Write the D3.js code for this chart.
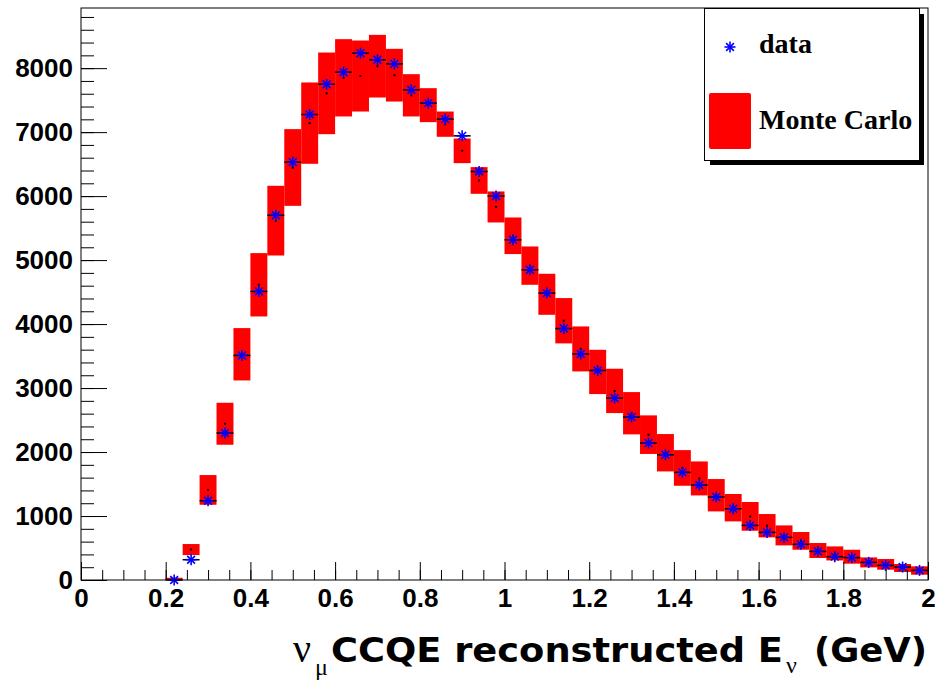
<!DOCTYPE html>
<html>
<head>
<meta charset="utf-8">
<script src="https://cdn.jsdelivr.net/npm/d3@7"></script>
<style>
  body { margin: 0; background: #fff; }
  .tick text { font-family: "Liberation Sans", Arial, sans-serif; font-weight: bold; font-size: 26px; fill: #000; }
</style>
</head>
<body>
<div id="chart"></div>
<script>
// bin centres (GeV), bins are 0.04 wide
var binCenters = [0.22, 0.26, 0.30, 0.34, 0.38, 0.42, 0.46, 0.50, 0.54, 0.58,
                  0.62, 0.66, 0.70, 0.74, 0.78, 0.82, 0.86, 0.90, 0.94, 0.98,
                  1.02, 1.06, 1.10, 1.14, 1.18, 1.22, 1.26, 1.30, 1.34, 1.38,
                  1.42, 1.46, 1.50, 1.54, 1.58, 1.62, 1.66, 1.70, 1.74, 1.78,
                  1.82, 1.86, 1.90, 1.94, 1.98];
var binWidth = 0.04;

// data points
var dataCounts = [0, 317, 1239, 2297, 3510, 4510, 5700, 6531, 7275, 7749,
                  7937, 8234, 8130, 8067, 7661, 7453, 7203, 6942, 6384, 6000,
                  5317, 4848, 4484, 3930, 3533, 3275, 2843, 2546, 2140, 1958,
                  1682, 1484, 1297, 1114, 853, 744, 666, 557, 447, 365,
                  350, 275, 228, 203, 150];

// Monte Carlo error band (low / high edge)
var mcLow = [0, 390, 1176, 2114, 3119, 4119, 5072, 5848, 6505, 6968,
             7245, 7322, 7541, 7478, 7245, 7156, 6927, 6515, 6036, 5588,
             5094, 4614, 4145, 3698, 3260, 2906, 2609, 2276, 1970, 1697,
             1473, 1322, 1072, 916, 770, 666, 541, 473, 344, 306,
             255, 197, 161, 125, 83];
var mcHigh = [35, 562, 1640, 2770, 3937, 5109, 6161, 7047, 7776, 8244,
              8453, 8432, 8520, 8302, 7906, 7687, 7322, 6900, 6453, 6073,
              5666, 5213, 4786, 4406, 3963, 3598, 3302, 2937, 2573, 2281,
              2030, 1853, 1578, 1344, 1219, 1031, 853, 750, 578, 525,
              473, 353, 328, 250, 213];

var width = 935,
    height = 683;

var x = d3.scaleLinear().domain([0, 2]).range([81, 928]);
var y = d3.scaleLinear().domain([0, 8940]).range([580, 8]);

var svg = d3.select("#chart")
    .append("svg")
    .attr("width", width)
    .attr("height", height);

var bins = binCenters.map(function (c, i) {
    return { c: c, data: dataCounts[i], lo: mcLow[i], hi: mcHigh[i] };
});

// red MC boxes
svg.append("g")
    .selectAll("rect")
    .data(bins)
    .enter().append("rect")
    .attr("x", function (d) { return x(d.c - binWidth / 2); })
    .attr("width", function (d) { return x(d.c + binWidth / 2) - x(d.c - binWidth / 2); })
    .attr("y", function (d) { return y(d.hi); })
    .attr("height", function (d) { return y(d.lo) - y(d.hi); })
    .attr("fill", "#ff0000");

// tiny MC centre dots
svg.append("g")
    .selectAll("rect")
    .data(bins)
    .enter().append("rect")
    .attr("x", function (d) { return x(d.c) - 1; })
    .attr("y", function (d) { return y((d.lo + d.hi) / 2) - 1; })
    .attr("width", 2)
    .attr("height", 2)
    .attr("fill", "#000");

// horizontal error bars on data
svg.append("g")
    .selectAll("line")
    .data(bins)
    .enter().append("line")
    .attr("x1", function (d) { return x(d.c - binWidth / 2); })
    .attr("x2", function (d) { return x(d.c + binWidth / 2); })
    .attr("y1", function (d) { return y(d.data); })
    .attr("y2", function (d) { return y(d.data); })
    .attr("stroke", "#000")
    .attr("stroke-width", 1.5);

function star(g, cx, cy, r) {
    [0, 45, 90, 135].forEach(function (a) {
        var rad = a * Math.PI / 180;
        g.append("line")
            .attr("x1", cx - r * Math.cos(rad)).attr("y1", cy - r * Math.sin(rad))
            .attr("x2", cx + r * Math.cos(rad)).attr("y2", cy + r * Math.sin(rad))
            .attr("stroke", "#0000ff")
            .attr("stroke-width", 1.6);
    });
}

var stars = svg.append("g");
bins.forEach(function (d) {
    star(stars, x(d.c), y(d.data), 5.5);
});

// axes, ticks inside the frame like ROOT
svg.append("g")
    .attr("transform", "translate(81,0)")
    .call(d3.axisLeft(y).tickValues(d3.range(0, 8001, 1000)).tickSize(-26).tickPadding(8)
        .tickFormat(d3.format("d")));
svg.append("g")
    .attr("transform", "translate(81,0)")
    .call(d3.axisLeft(y).tickValues(d3.range(0, 8801, 200)).tickSize(-13).tickFormat(""));

svg.append("g")
    .attr("transform", "translate(0,580)")
    .call(d3.axisBottom(x).tickValues(d3.range(0, 11).map(function (i) { return i * 0.2; }))
        .tickSize(-18).tickPadding(9)
        .tickFormat(function (d) { return d3.format(".1~f")(d); }));
svg.append("g")
    .attr("transform", "translate(0,580)")
    .call(d3.axisBottom(x).tickValues(d3.range(0, 41).map(function (i) { return i * 0.05; }))
        .tickSize(-10).tickFormat(""));

svg.selectAll(".domain").remove();
svg.selectAll(".tick line").attr("stroke", "#000").attr("stroke-width", 1);

// frame
svg.append("rect")
    .attr("x", 81).attr("y", 8)
    .attr("width", 847).attr("height", 572)
    .attr("fill", "none")
    .attr("stroke", "#000")
    .attr("stroke-width", 1);

// legend
var leg = svg.append("g");
leg.append("rect")
    .attr("x", 710).attr("y", 14).attr("width", 214).attr("height", 151)
    .attr("fill", "#000");
leg.append("rect")
    .attr("x", 704.5).attr("y", 8.5).attr("width", 215).attr("height", 152)
    .attr("fill", "#fff").attr("stroke", "#000").attr("stroke-width", 1);
star(leg, 730, 47, 5.5);
leg.append("rect")
    .attr("x", 709).attr("y", 93).attr("width", 42).attr("height", 56)
    .attr("rx", 2)
    .attr("fill", "#ff0000");
leg.append("text")
    .attr("x", 759).attr("y", 53)
    .style("font-family", "'Liberation Serif', serif")
    .style("font-weight", "bold")
    .style("font-size", "28px")
    .text("data");
leg.append("text")
    .attr("x", 759).attr("y", 129)
    .style("font-family", "'Liberation Serif', serif")
    .style("font-weight", "bold")
    .style("font-size", "28px")
    .text("Monte Carlo");

// x axis title
var title = svg.append("g");
title.append("text")
    .attr("x", 293).attr("y", 662)
    .style("font-family", "'Liberation Serif', serif")
    .style("font-size", "40px")
    .text("ν");
title.append("text")
    .attr("x", 315).attr("y", 675)
    .style("font-family", "'Liberation Serif', serif")
    .style("font-size", "24px")
    .text("μ");
title.append("text")
    .attr("x", 331).attr("y", 662)
    .attr("textLength", 452)
    .attr("lengthAdjust", "spacingAndGlyphs")
    .style("font-family", "'DejaVu Sans', sans-serif")
    .style("font-weight", "bold")
    .style("font-size", "33px")
    .text("CCQE reconstructed E");
title.append("text")
    .attr("x", 786).attr("y", 673)
    .style("font-family", "'Liberation Serif', serif")
    .style("font-size", "24px")
    .text("ν");
title.append("text")
    .attr("x", 814).attr("y", 662)
    .attr("textLength", 113)
    .attr("lengthAdjust", "spacingAndGlyphs")
    .style("font-family", "'DejaVu Sans', sans-serif")
    .style("font-weight", "bold")
    .style("font-size", "33px")
    .text("(GeV)");
</script>
</body>
</html>
